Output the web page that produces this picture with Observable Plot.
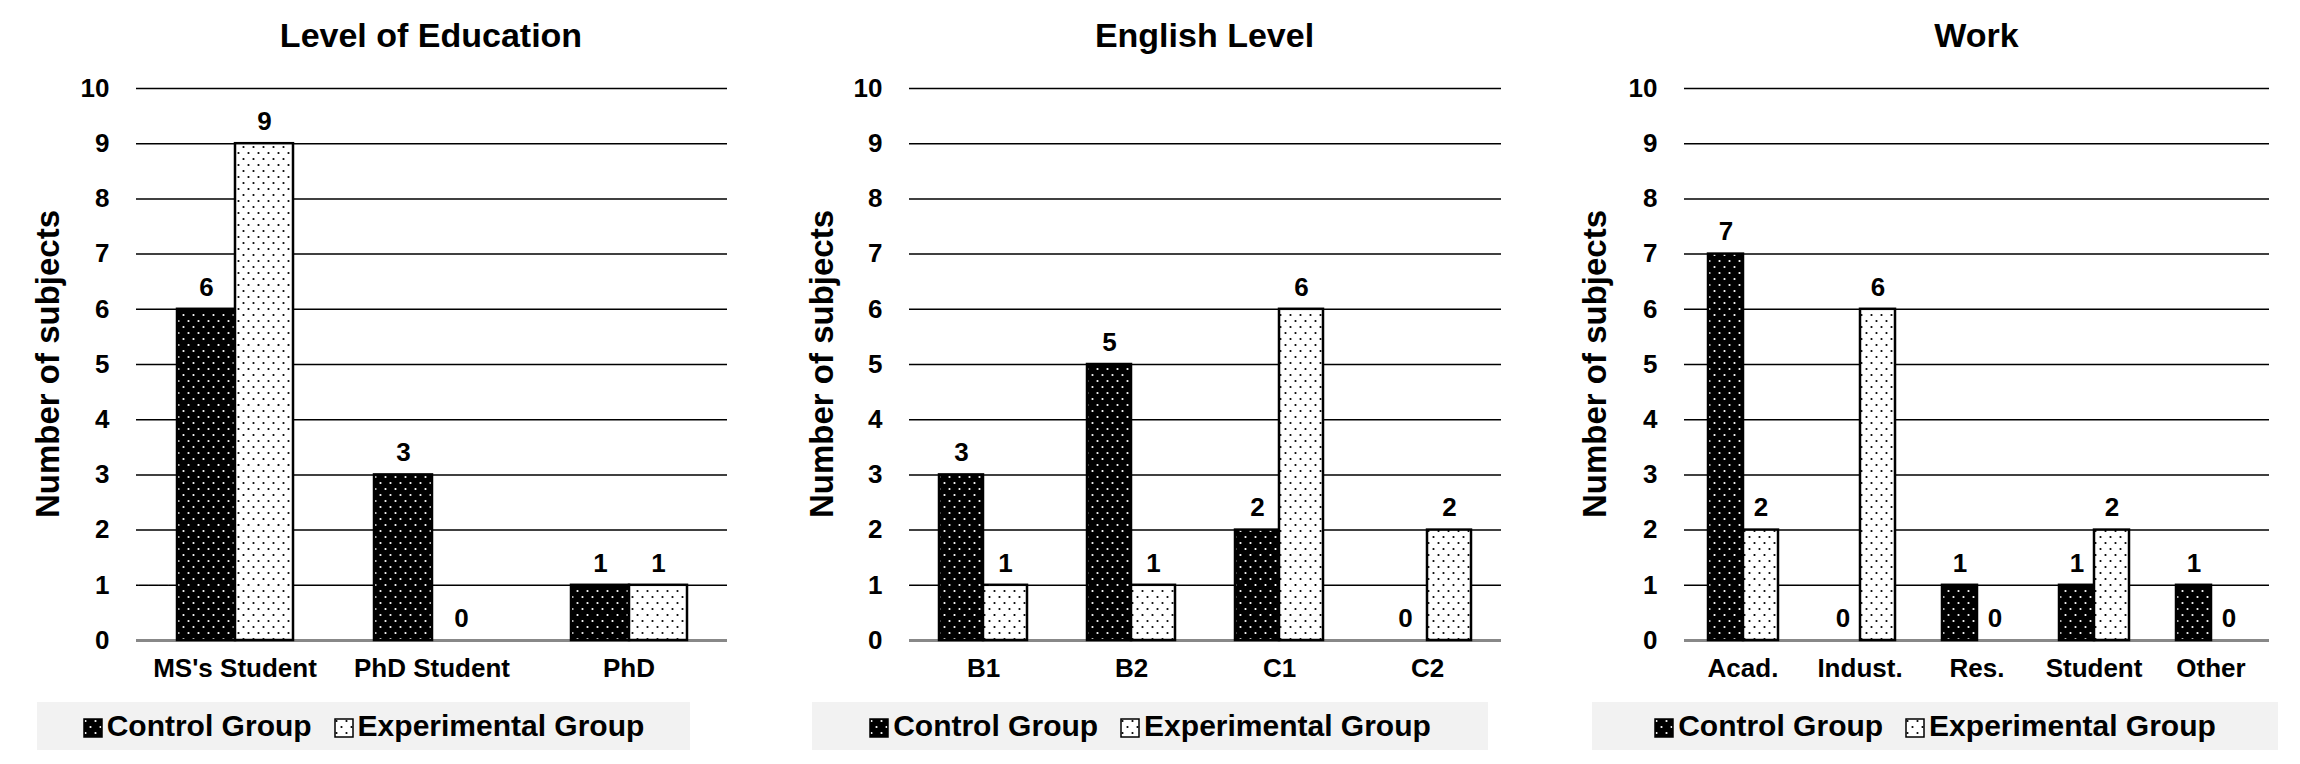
<!DOCTYPE html>
<html><head><meta charset="utf-8">
<script src="https://cdn.jsdelivr.net/npm/d3@7"></script>
<script src="https://cdn.jsdelivr.net/npm/@observablehq/plot@0.6"></script>
<style>
body{margin:0;background:#fff;font-family:"Liberation Sans",Arial,sans-serif;font-weight:bold;}
.panel{position:absolute;top:0;height:764px;}
.title{position:absolute;top:16px;font-size:34px;text-align:center;}
.ylab{position:absolute;top:364px;font-size:33px;transform:translate(-50%,-50%) rotate(-90deg);white-space:nowrap;}
.chart{position:absolute;top:60px;left:0;}
.legend{position:absolute;top:702px;height:48px;background:#f2f2f2;display:flex;align-items:center;justify-content:center;gap:22px;font-size:30px;}
.sw{display:inline-block;width:20px;height:20px;vertical-align:-2px;margin-right:4px;}
</style></head><body>
<svg width="0" height="0" style="position:absolute">
<defs>
<pattern id="pc" width="10" height="12" patternUnits="userSpaceOnUse"><rect width="10" height="12" fill="#000"/><circle cx="2.5" cy="3" r="1.1" fill="#fff"/><circle cx="7.5" cy="9" r="1.1" fill="#fff"/></pattern>
<pattern id="pe" width="10" height="12" patternUnits="userSpaceOnUse"><rect width="10" height="12" fill="#fff"/><circle cx="2.5" cy="3" r="1.1" fill="#000"/><circle cx="7.5" cy="9" r="1.1" fill="#000"/></pattern>
</defs></svg>
<div id="root"></div>
<script>
const groups = ["Control Group", "Experimental Group"];
const eduCats = ["MS's Student", "PhD Student", "PhD"];
const eduControl = [6, 3, 1];
const eduExperimental = [9, 0, 1];
const engCats = ["B1", "B2", "C1", "C2"];
const engControl = [3, 5, 2, 0];
const engExperimental = [1, 1, 6, 2];
const workCats = ["Acad.", "Indust.", "Res.", "Student", "Other"];
const workControl = [7, 0, 1, 1, 1];
const workExperimental = [2, 6, 0, 2, 0];
const yTicks = d3.range(0, 11);

const panels = [
  {title: "Level of Education", cats: eduCats, c: eduControl, e: eduExperimental, left: 0, width: 760, ml: 135, mr: 33, ylx: 48, lg: [37, 690]},
  {title: "English Level", cats: engCats, c: engControl, e: engExperimental, left: 760, width: 760, ml: 147, mr: 18, ylx: 62, lg: [812-760, 1488-760]},
  {title: "Work", cats: workCats, c: workControl, e: workExperimental, left: 1520, width: 780, ml: 162, mr: 29, ylx: 75, lg: [1592-1520, 2278-1520]}
];

const root = document.getElementById("root");
for (const p of panels) {
  const data = p.cats.flatMap((cat, i) => [
    {cat, group: groups[0], value: p.c[i]},
    {cat, group: groups[1], value: p.e[i]}
  ]);
  const div = document.createElement("div");
  div.className = "panel";
  div.style.left = p.left + "px";
  div.style.width = p.width + "px";
  const plotW = p.width - p.ml - p.mr;
  div.innerHTML = `<div class="title" style="left:${p.ml}px;width:${plotW}px">${p.title}</div>
    <div class="ylab" style="left:${p.ylx}px">Number of subjects</div>
    <div class="legend" style="left:${p.lg[0]}px;width:${p.lg[1]-p.lg[0]}px">
      <span><svg class="sw"><rect x="1" y="1" width="18" height="18" fill="url(#pc)" stroke="#000" stroke-width="1.5"/></svg>Control Group</span>
      <span><svg class="sw"><rect x="1" y="1" width="18" height="18" fill="url(#pe)" stroke="#000" stroke-width="1.5"/></svg>Experimental Group</span>
    </div>`;
  const chart = Plot.plot({
    width: p.width,
    height: 640,
    marginLeft: p.ml,
    marginRight: p.mr,
    marginTop: 28,
    marginBottom: 60,
    style: {fontFamily: "Liberation Sans, Arial, sans-serif", fontWeight: "bold", fontSize: "26px", color: "#000", background: "transparent"},
    fx: {domain: p.cats, padding: 0, label: null},
    x: {domain: groups, paddingInner: 0, paddingOuter: 0.67, axis: null},
    y: {domain: [0, 10], axis: null},
    marks: [
      Plot.ruleY(yTicks.filter(d => d > 0), {stroke: "#000", strokeWidth: 1.5}),
      Plot.ruleY([0], {stroke: "#888", strokeWidth: 3}),
      Plot.barY(data.filter(d => d.value > 0), {
        fx: "cat", x: "group", y: "value",
        fill: d => d.group === groups[0] ? "url(#pc)" : "url(#pe)",
        stroke: "#000", strokeWidth: 2.5, inset: 0
      }),
      Plot.text(data, {fx: "cat", x: "group", y: "value", text: d => String(d.value), dy: -22, fontSize: 26}),
      Plot.axisFx({anchor: "bottom", tickSize: 0, tickPadding: 18, label: null, fontSize: 26}),
      Plot.axisY({ticks: yTicks, tickSize: 0, tickPadding: 27, label: null, fontSize: 26, facetAnchor: "left"})
    ]
  });
  chart.classList.add("chart");
  div.appendChild(chart);
  root.appendChild(div);
}
</script></body></html>
